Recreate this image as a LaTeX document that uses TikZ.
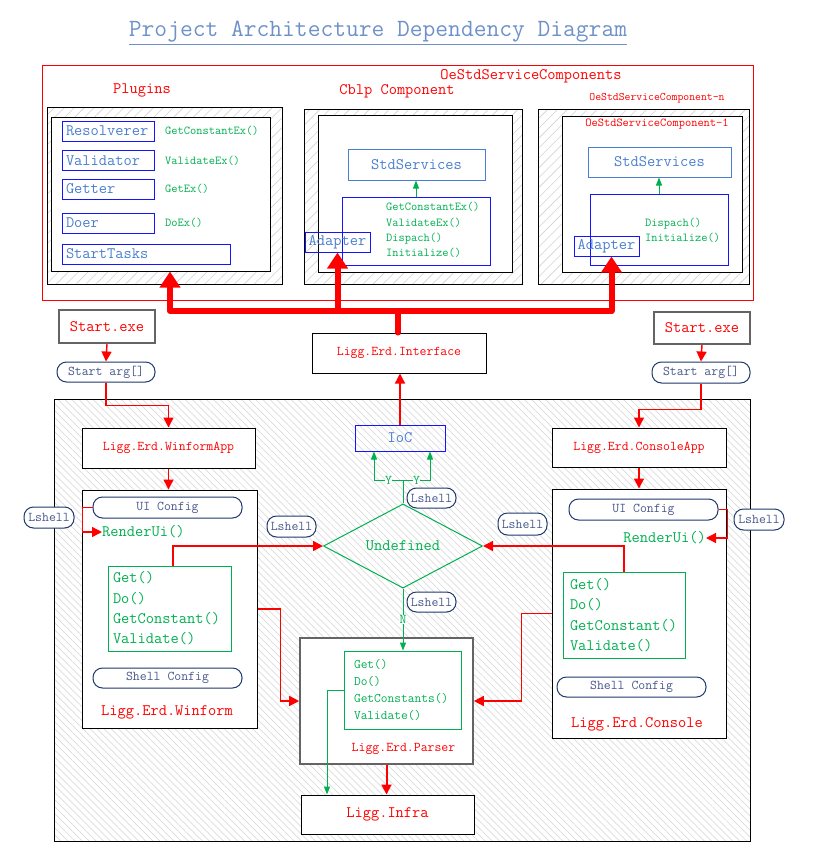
\documentclass[tikz,border=0pt]{standalone}
\usepackage{fontspec}
\usetikzlibrary{shapes.geometric,arrows.meta,patterns.meta}

\definecolor{lgreen}{RGB}{0,176,80}
\definecolor{lblue}{RGB}{74,126,208}
\definecolor{pureblue}{RGB}{20,20,255}
\definecolor{navy}{RGB}{31,56,110}
\definecolor{slate}{RGB}{72,88,140}
\definecolor{titleblue}{RGB}{110,145,200}
\definecolor{frame}{RGB}{100,100,100}

\newcommand{\sztitle}{\ttfamily\fontsize{24.8}{27}\selectfont}
\newcommand{\szbig}{\ttfamily\fontsize{16}{18}\selectfont}
\newcommand{\szlist}{\ttfamily\fontsize{16}{20.3}\selectfont}
\newcommand{\szmid}{\ttfamily\fontsize{13.4}{15}\selectfont}
\newcommand{\szpar}{\ttfamily\fontsize{13.1}{17}\selectfont}
\newcommand{\szsmall}{\ttfamily\fontsize{12.1}{15.3}\selectfont}
\newcommand{\sztiny}{\ttfamily\fontsize{11.4}{13}\selectfont}

\tikzset{
  sz/.style 2 args={minimum width=#1,minimum height=#2},
  plain/.style={draw=black,line width=1pt,fill=white,inner sep=0pt},
  greybox/.style={draw=frame,line width=1.5pt,fill=white,inner sep=0pt},
  hatchA/.style={draw=black,line width=1pt,inner sep=0pt,
    pattern={Lines[angle=45,distance=7pt,line width=0.6pt]},pattern color=gray!35},
  hatchB/.style={draw=black,line width=1pt,inner sep=0pt,
    pattern={Lines[angle=-45,distance=5pt,line width=0.7pt]},pattern color=gray!28},
  lbl/.style={text=red,font=\szbig,inner sep=0pt},
  lblmid/.style={text=red,font=\szmid,inner sep=0pt},
  itm/.style={draw=pureblue,line width=1pt,text=lblue,font=\szbig,align=left,
    inner xsep=4pt,inner ysep=0pt,minimum height=20,text width=#1},
  meth/.style={text=lgreen,font=\szsmall,inner sep=0pt,align=left},
  std/.style={draw=lblue,line width=1pt,text=lblue,font=\szbig,inner sep=0pt},
  adlbl/.style={draw=pureblue,line width=1pt,text=lblue,font=\szbig,inner sep=0pt},
  adbox/.style={draw=pureblue,line width=1pt,inner sep=0pt},
  gbox/.style={draw=lgreen,line width=1pt,fill=white,text=lgreen,font=\szlist,
    align=left,inner ysep=0pt},
  pill/.style={draw=navy,line width=1pt,fill=white,rounded corners=9.5pt,
    text=slate,font=\szmid,inner sep=0pt},
  rarr/.style={draw=red,line width=1.4pt,-{Triangle[width=10pt,length=10pt]}},
  garr/.style={draw=lgreen,line width=1pt,-{Triangle[width=6pt,length=8pt]}},
  gline/.style={draw=lgreen,line width=1pt},
  fat/.style={draw=red,line width=6pt,line join=round,line cap=round,
    -{Triangle[width=20pt,length=16pt]}},
  fatline/.style={draw=red,line width=6pt,line cap=round},
  ylab/.style={text=lgreen,font=\szmid,fill=white,inner sep=0.5pt}
}

\begin{document}
\begin{tikzpicture}[x=1pt,y=-1pt]
\useasboundingbox (0,0) rectangle (826,865);

% title
\node[text=titleblue,font=\sztitle,inner sep=0pt] (title) at (378,33)
  {\underline{Project Architecture Dependency Diagram}};

% top frame
\node[draw=red,line width=0.8pt,sz={711}{235}] (top) at (397.5,182.5) {};
\node[lbl] (topLbl) at (531,76) {OeStdServiceComponents};

% plugins
\node[lbl] (plugLbl) at (142,90) {Plugins};
\node[hatchA,sz={235}{177}] (plugOut) at (164.5,195.5) {};
\node[plain,sz={219}{154}] (plugIn) at (160.5,194) {};
\node[itm=84] (resolver) at (108,131) {Resolverer};
\node[itm=84] (validator) at (108,160.5) {Validator};
\node[itm=84] (getter) at (108,189) {Getter};
\node[itm=84] (doer) at (108,223) {Doer};
\node[itm=160] (tasks) at (146,254) {StartTasks};
\node[meth,anchor=west] (mGet1) at (165,131) {GetConstantEx()};
\node[meth,anchor=west] (mVal1) at (165,160.5) {ValidateEx()};
\node[meth,anchor=west] (mGetEx) at (165,189) {GetEx()};
\node[meth,anchor=west] (mDoEx) at (165,223) {DoEx()};

% cblp component
\node[lbl] (cblpLbl) at (397,91) {Cblp Component};
\node[hatchA,sz={218}{175}] (cblpOut) at (413,196.5) {};
\node[plain,sz={194}{157}] (cblpIn) at (415,193.5) {};
\node[std,sz={137}{31}] (std1) at (416.5,164.5) {StdServices};
\node[adbox,sz={148}{68}] (adBox1) at (416,231) {};
\node[adlbl,sz={65}{20}] (ad1) at (337.5,242) {Adapter};
\node[meth,anchor=west] (cblpTxt) at (386,230)
  {GetConstantEx()\\ValidateEx()\\Dispach()\\Initialize()};

% oestd component
\node[text=red,font=\sztiny,inner sep=0pt] (nLbl) at (657,98) {OeStdServiceComponent-n};
\node[hatchA,sz={211}{175}] (oeOut) at (643.5,196.5) {};
\node[plain,sz={180}{156}] (oeIn) at (652,194) {};
\node[text=red,font=\szsmall,inner sep=0pt] (oneLbl) at (657,124) {OeStdServiceComponent-1};
\node[std,sz={143}{30}] (std2) at (659.5,162) {StdServices};
\node[adbox,sz={138}{71}] (adBox2) at (659,229.5) {};
\node[adlbl,sz={65}{20}] (ad2) at (606.5,246) {Adapter};
\node[meth,anchor=west] (oeTxt) at (645,230.5) {Dispach()\\Initialize()};

\draw[garr] (adBox1.north) -- (adBox1.north |- std1.south);
\draw[garr] (adBox2.north) -- (adBox2.north |- std2.south);

% interface
\node[plain,sz={174}{40}] (iface) at (399,353) {};
\node[lblmid] (ifaceLbl) at (399,353) {Ligg.Erd.Interface};

% starters
\node[greybox,sz={96}{33},text=red,font=\szbig] (startL) at (107,326.5) {Start.exe};
\node[pill,sz={98}{20}] (argL) at (106,372) {Start arg[]};
\node[greybox,sz={96}{32},text=red,font=\szbig] (startR) at (702,328) {Start.exe};
\node[pill,sz={98}{21}] (argR) at (701,372.5) {Start arg[]};

% big area
\node[hatchB,sz={696}{442}] (area) at (402,620) {};

\node[adlbl,sz={90}{26}] (ioc) at (400,438) {IoC};
\node[draw=lgreen,line width=1pt,diamond,sz={159}{73},inner sep=0pt,
  text=lgreen,font=\szbig] (dia) at (403,546) {Undefined};

% winform side
\node[plain,sz={173}{40},text=red,font=\szmid] (winApp) at (168.5,448) {Ligg.Erd.WinformApp};
\node[plain,sz={175}{238}] (winBox) at (169.5,609) {};
\node[pill,sz={149}{21}] (uiL) at (167.5,507.5) {UI Config};
\node[text=lgreen,font=\szbig,inner sep=0pt,anchor=west] (renderL) at (102,532) {RenderUi()};
\node[gbox,text width=113,inner xsep=5pt,minimum height=85] (gL) at (169.5,608.5)
  {Get()\\Do()\\GetConstant()\\Validate()};
\node[pill,sz={149}{20}] (shellL) at (167.5,678) {Shell Config};
\node[lbl] (winLbl) at (167,712) {Ligg.Erd.Winform};

% console side
\node[plain,sz={174}{39},text=red,font=\szmid] (conApp) at (639,447.5) {Ligg.Erd.ConsoleApp};
\node[plain,sz={174}{249}] (conBox) at (639,613.5) {};
\node[pill,sz={149}{21}] (uiR) at (643.5,509.5) {UI Config};
\node[text=lgreen,font=\szbig,inner sep=0pt,anchor=east] (renderR) at (706,538) {RenderUi()};
\node[gbox,text width=108,inner xsep=7pt,minimum height=86] (gR) at (624,615)
  {Get()\\Do()\\GetConstant()\\Validate()};
\node[pill,sz={149}{20}] (shellR) at (631.5,687) {Shell Config};
\node[lbl] (conLbl) at (637,724) {Ligg.Erd.Console};

% parser and infra
\node[greybox,draw=frame,line width=1.6pt,sz={173}{126}] (parser) at (386.5,701) {};
\node[gbox,font=\szpar,text width=97,inner xsep=10pt,minimum height=78] (pIn) at (402.5,690)
  {Get()\\Do()\\GetConstants()\\Validate()};
\node[lblmid] (parLbl) at (403.5,749) {Ligg.Erd.Parser};
\node[plain,sz={173}{39},text=red,font=\szbig] (infra) at (387.5,814.5) {Ligg.Infra};

% lshell marks
\node[pill,sz={50}{21}] (ls1) at (49,517.5) {Lshell};
\node[pill,sz={49}{21}] (ls2) at (291.5,526.5) {Lshell};
\node[pill,sz={49}{20}] (ls3) at (431.5,498) {Lshell};
\node[pill,sz={49}{20}] (ls4) at (431.5,602) {Lshell};
\node[pill,sz={49}{22}] (ls5) at (522.5,524) {Lshell};
\node[pill,sz={50}{21}] (ls6) at (759,519.5) {Lshell};

% fat arrows to components
\coordinate (hub) at (398,311);
\draw[fatline] (hub |- iface.north) -- (hub);
\draw[fat] (hub) -| ([xshift=9.5pt]plugIn.south);
\draw[fat] (hub) -| (ad1.south);
\draw[fat] (hub) -| ([xshift=5pt]ad2.south);

% red flow
\draw[rarr] (startL.south) -- (argL.north);
\draw[rarr] (argL.south) -- ++(0,23) -| (winApp.north);
\draw[rarr] (winApp.south) -- (winApp.south |- winBox.north);
\draw[rarr] (uiL.west) -- ++(-10,0) |- (renderL.west);
\draw[rarr] ([xshift=3.5pt]gL.north) |- (dia.west);
\draw[rarr] (winBox.east) -- ++(23,0) |- (parser.west);

\draw[rarr] (startR.south) -- (argR.north);
\draw[rarr] (argR.south) -- ++(0,26) -| (conApp.north);
\draw[rarr] (conApp.south) -- (conBox.north);
\draw[rarr] (uiR.east) -- ++(9,0) |- (renderR.east);
\draw[rarr] (gR.north) |- (dia.east);
\draw[rarr] (conBox.west) -- ++(-30,0) |- (parser.east);

\draw[rarr] (ioc.north) -- (ioc.north |- iface.south);
\draw[rarr,line width=2pt] (parser.south) -- (parser.south |- infra.north);

% green flow
\coordinate (split) at (403,480);
\draw[gline] (dia.north) -- (split);
\draw[garr] (split) -| node[pos=0.25,ylab] (yL) {Y} ([xshift=-26pt]ioc.south);
\draw[garr] (split) -| node[pos=0.25,ylab] (yR) {Y} ([xshift=30pt]ioc.south);
\draw[garr] (dia.south) -- node[ylab] (nLab) {N} (dia.south |- pIn.north);
\draw[garr] (pIn.west) -| ([xshift=-60.5pt]infra.north);
\end{tikzpicture}
\end{document}
